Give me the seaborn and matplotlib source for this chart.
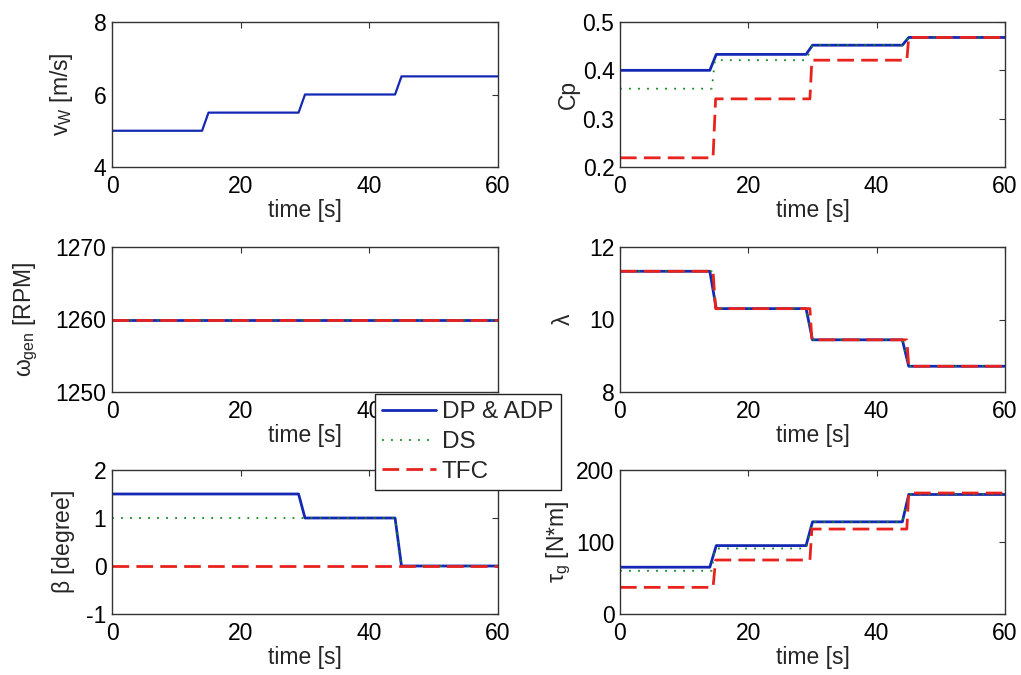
import numpy as np
import pandas as pd
import matplotlib
matplotlib.use("Agg")
import matplotlib.pyplot as plt
import seaborn as sns

# ---------------- data ----------------
# time breakpoints (s) for each controller
t_dp = [0, 14, 15, 29, 30, 44, 45, 60]
t_ds = [0, 14.3, 14.8, 29, 30, 44, 45, 60]
t_tfc = [0, 14.5, 14.9, 29.6, 29.9, 44.7, 45.0, 60]

# wind speed (m/s)
vw = [5.0, 5.0, 5.5, 5.5, 6.0, 6.0, 6.5, 6.5]

# power coefficient Cp
cp_dp = [0.400, 0.400, 0.433, 0.433, 0.452, 0.452, 0.468, 0.468]
cp_ds = [0.362, 0.362, 0.421, 0.421, 0.452, 0.452, 0.468, 0.468]
cp_tfc = [0.219, 0.219, 0.341, 0.341, 0.421, 0.421, 0.468, 0.468]

# generator speed (RPM)
wgen_dp = [1260, 1260, 1260, 1260, 1260, 1260, 1260, 1260]
wgen_ds = [1260, 1260, 1260, 1260, 1260, 1260, 1260, 1260]
wgen_tfc = [1260, 1260, 1260, 1260, 1260, 1260, 1260, 1260]

# tip speed ratio lambda
lam_dp = [11.33, 11.33, 10.30, 10.30, 9.44, 9.44, 8.71, 8.71]
lam_ds = [11.33, 11.33, 10.30, 10.30, 9.44, 9.44, 8.71, 8.71]
lam_tfc = [11.33, 11.33, 10.30, 10.30, 9.44, 9.44, 8.71, 8.71]

# pitch angle beta (degree)
beta_dp = [1.5, 1.5, 1.5, 1.5, 1.0, 1.0, 0.0, 0.0]
beta_ds = [1.0, 1.0, 1.0, 1.0, 1.0, 1.0, 0.0, 0.0]
beta_tfc = [0.0, 0.0, 0.0, 0.0, 0.0, 0.0, 0.0, 0.0]

# generator torque (N*m)
tau_dp = [65, 65, 95, 95, 128, 128, 166, 166]
tau_ds = [60, 60, 91, 91, 128, 128, 166, 166]
tau_tfc = [37, 37, 75, 75, 118, 118, 168, 168]

labels = ["DP & ADP", "DS", "TFC"]

# ---------------- style ----------------
sns.set_theme(style="white")
plt.rcParams["font.family"] = ["Liberation Sans", "DejaVu Sans"]
plt.rcParams["mathtext.fontset"] = "custom"
plt.rcParams["mathtext.rm"] = "Liberation Sans"
plt.rcParams["mathtext.it"] = "Liberation Sans"
plt.rcParams["mathtext.sf"] = "Liberation Sans"
plt.rcParams["axes.unicode_minus"] = False

FS = 16.5
LFS = 17.5
C_BLUE = "#1428b4"
C_GREEN = "#108a20"
C_RED = "#e8231e"

fig = plt.figure(figsize=(10.21, 6.75), dpi=100)
fig.patch.set_facecolor("white")

W, H = 1021, 675
cols = [(112, 498), (620, 1005)]
rows = [(22, 167), (247, 392), (470, 614)]


def make_ax(r, c):
    x0, x1 = cols[c]
    y0, y1 = rows[r]
    return fig.add_axes([x0 / W, 1 - y1 / H, (x1 - x0) / W, (y1 - y0) / H])


def draw(ax, series, ylim, yticks, ylabel, label_x):
    styles = [
        dict(color=C_BLUE, lw=2.0, ls="-"),
        dict(color=C_GREEN, lw=1.3, ls=(0, (1, 4))),
        dict(color=C_RED, lw=2.0, ls=(0, (6, 2.6))),
    ]
    for (t, y), st, lab in zip(series, styles, labels):
        df = pd.DataFrame({"t": t, "y": y})
        sns.lineplot(data=df, x="t", y="y", ax=ax, color=st["color"],
                     linewidth=st["lw"], linestyle=st["ls"], label=lab,
                     legend=False, estimator=None, sort=False)
    ax.set_xlim(0, 60)
    ax.set_xticks([0, 20, 40, 60])
    ax.set_ylim(*ylim)
    ax.set_yticks(yticks)
    ax.set_xlabel("time [s]", fontsize=FS, labelpad=1)
    ax.set_ylabel(ylabel, fontsize=FS)
    ax.yaxis.set_label_coords(label_x, 0.5)
    ax.tick_params(axis="both", which="both", direction="in", length=4,
                   width=0.8, top=True, right=True, labelsize=FS,
                   colors="#333333", labelcolor="black")
    ax.tick_params(axis="x", pad=5.5)
    ax.tick_params(axis="y", pad=4)
    for sp in ax.spines.values():
        sp.set_visible(True)
        sp.set_color("#333333")
        sp.set_linewidth(1.0)
    ax.set_facecolor("white")


# top-left: wind speed (single series)
ax1 = make_ax(0, 0)
sns.lineplot(data=pd.DataFrame({"t": t_dp, "y": vw}), x="t", y="y", ax=ax1,
             color=C_BLUE, linewidth=1.6, legend=False, estimator=None, sort=False)
draw(ax1, [], (4, 8), [4, 6, 8], r"v$_{\mathrm{W}}$ [m/s]", -0.096)

# top-right: Cp
ax2 = make_ax(0, 1)
draw(ax2, [(t_dp, cp_dp), (t_ds, cp_ds), (t_tfc, cp_tfc)],
     (0.2, 0.5), [0.2, 0.3, 0.4, 0.5], "Cp", -0.104)

# middle-left: omega_gen
ax3 = make_ax(1, 0)
draw(ax3, [(t_dp, wgen_dp), (t_ds, wgen_ds), (t_tfc, wgen_tfc)],
     (1250, 1270), [1250, 1260, 1270], r"$\omega_{\mathrm{gen}}$ [RPM]", -0.187)

# middle-right: lambda
ax4 = make_ax(1, 1)
draw(ax4, [(t_dp, lam_dp), (t_ds, lam_ds), (t_tfc, lam_tfc)],
     (8, 12), [8, 10, 12], r"$\lambda$", -0.117)

# bottom-left: beta
ax5 = make_ax(2, 0)
draw(ax5, [(t_dp, beta_dp), (t_ds, beta_ds), (t_tfc, beta_tfc)],
     (-1, 2), [-1, 0, 1, 2], r"$\beta$ [degree]", -0.09)

# bottom-right: tau_g
ax6 = make_ax(2, 1)
draw(ax6, [(t_dp, tau_dp), (t_ds, tau_ds), (t_tfc, tau_tfc)],
     (0, 200), [0, 100, 200], r"$\tau_{\mathrm{g}}$ [N*m]", -0.122)

# legend (figure level, overlapping the panels like the original)
handles, labs = ax2.get_legend_handles_labels()
leg = fig.legend(handles, labs, loc="upper left",
                 bbox_to_anchor=(375 / W, 1 - 394 / H), fontsize=LFS,
                 frameon=True, fancybox=False, framealpha=1.0,
                 edgecolor="#222222", handlelength=2.2, handletextpad=0.25,
                 labelspacing=0.32, borderpad=0.3, borderaxespad=0.0)
leg.get_frame().set_linewidth(1.0)
leg.set_zorder(10)

fig.savefig("out.png", dpi=100, facecolor="white")
